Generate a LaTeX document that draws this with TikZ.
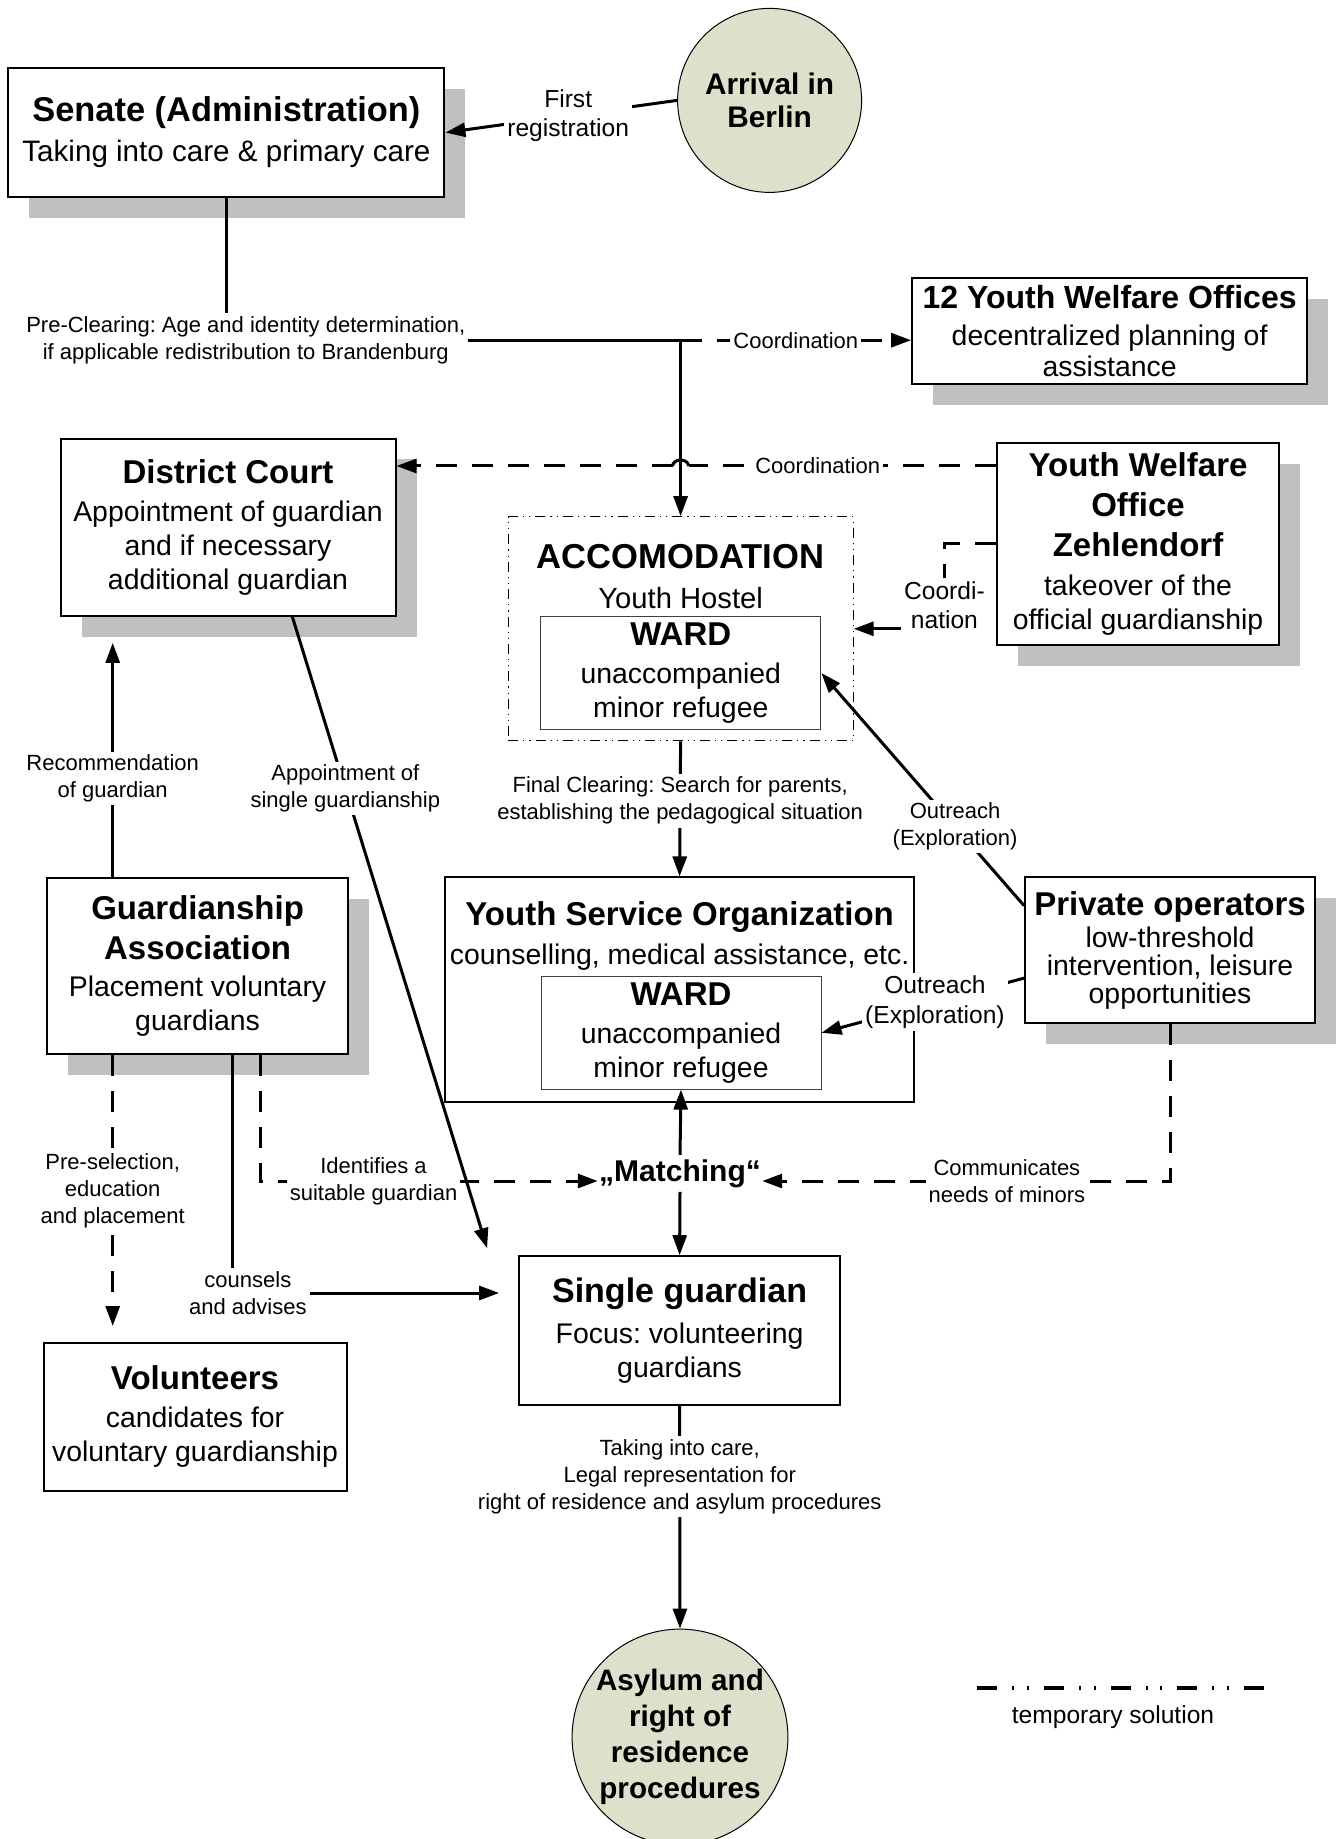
\documentclass[tikz,border=0pt]{standalone}
\usepackage{fontspec}
\setmainfont{Liberation Sans}
\usepackage{xcolor}
\usetikzlibrary{shapes,arrows.meta,shadows,calc}
\definecolor{circlegreen}{RGB}{221,224,203}
\definecolor{shadowgray}{RGB}{192,192,192}
\newcommand{\titlefont}{\fontsize{16.5}{20}\selectfont\bfseries}
\newcommand{\bodyfont}{\fontsize{14.2}{17}\selectfont}
\newcommand{\lblfont}{\fontsize{11}{13.5}\selectfont}
\newcommand{\biglblfont}{\fontsize{12.3}{14.7}\selectfont}
\frenchspacing

\begin{document}
\begin{tikzpicture}[x=1pt, y=-1pt]
    \tikzstyle{box} = [rectangle, draw=black, line width=1pt, fill=white, inner sep=0pt, align=center, font=\bodyfont]
    \tikzstyle{shadowbox} = [box, drop shadow={shadow xshift=10.5pt, shadow yshift=-10.3pt, fill=shadowgray, opacity=1}]
    \tikzstyle{wardbox} = [rectangle, draw=black!75, line width=0.5pt, fill=white, inner sep=0pt, align=center, font=\bodyfont, minimum width=140pt, minimum height=56.3pt]
    \tikzstyle{tempbox} = [rectangle, draw=black, line width=0.6pt, dash pattern=on 5pt off 2.5pt on 0.6pt off 2.5pt on 0.6pt off 2.5pt, inner sep=0pt, minimum width=172.5pt, minimum height=112pt]
    \tikzstyle{bubble} = [circle, draw=black, line width=0.5pt, fill=circlegreen, inner sep=0pt, align=center]
    \tikzstyle{lbl} = [fill=white, inner sep=1.5pt, align=center, font=\lblfont]
    \tikzstyle{biglbl} = [lbl, font=\biglblfont]
    \tikzstyle{plainline} = [line width=1.5pt]
    \tikzstyle{conn} = [plainline, -{Triangle[length=10pt, width=7pt]}]
    \tikzstyle{dashline} = [line width=1.5pt, dash pattern=on 10.5pt off 7.5pt]
    \tikzstyle{dasharrow} = [dashline, -{Triangle[length=10pt, width=7pt]}]
    \tikzstyle{legendline} = [line width=1.75pt, dash pattern=on 10pt off 7.5pt on 1pt off 6.4pt on 1pt off 7.5pt]

    \useasboundingbox (0,0) rectangle (668.5,919.5);

    \node (senate) [shadowbox, minimum width=218pt, minimum height=64.5pt, font=\fontsize{14.8}{17}\selectfont] at (113.2,66.3) {{\fontsize{17.2}{20}\selectfont\bfseries Senate (Administration)}\\[3pt] Taking into care \& primary care};
    \node (arrival) [bubble, minimum size=92pt, font=\fontsize{14.9}{16.7}\selectfont\bfseries] at (384.8,50.2) {Arrival in\\Berlin};
    \node (youth12) [shadowbox, minimum width=197.5pt, minimum height=53pt, font=\fontsize{14.2}{15.3}\selectfont] at (554.8,165.5) {{\fontsize{16}{20}\selectfont\bfseries 12 Youth Welfare Offices}\\[3pt] decentralized planning of\\assistance};
    \node (court) [shadowbox, minimum width=167.5pt, minimum height=88.5pt] at (114,263.7) {{\titlefont District Court}\\[2.4pt] Appointment of guardian\\and if necessary\\additional guardian};
    \node (zehl) [shadowbox, minimum width=141pt, minimum height=101pt] at (569,272) {{\titlefont Youth Welfare}\\[3pt]{\titlefont Office}\\[3pt]{\titlefont Zehlendorf}\\[2.4pt] takeover of the\\official guardianship};

    \node (accom) [tempbox] at (340.3,314.4) {};
    \node (accomtxt) [align=center, inner sep=0pt, font=\fontsize{14.6}{17}\selectfont] at (340.3,288.4) {{\fontsize{17.3}{20}\selectfont\bfseries ACCOMODATION}\\[3pt] Youth Hostel};
    \node (ward1) [wardbox] at (340.4,336.5) {{\titlefont WARD}\\[1.8pt] unaccompanied\\minor refugee};

    \node (yso) [box, minimum width=234.5pt, minimum height=112.2pt] at (339.8,494.8) {};
    \node (ysotxt) [align=center, inner sep=0pt, font=\bodyfont] at (339.8,468) {{\titlefont Youth Service Organization}\\[2.9pt] counselling, medical assistance, etc.};
    \node (ward2) [wardbox] at (340.5,516.4) {{\titlefont WARD}\\[1.8pt] unaccompanied\\minor refugee};

    \node (private) [shadowbox, minimum width=145pt, minimum height=73pt, font=\fontsize{14.2}{14}\selectfont] at (585,475) {{\titlefont Private operators}\\[2pt] low-threshold\\intervention, leisure\\opportunities};
    \node (ga) [shadowbox, minimum width=150.5pt, minimum height=88pt] at (98.8,483) {{\titlefont Guardianship}\\[3.3pt]{\titlefont Association}\\[1.6pt] Placement voluntary\\guardians};
    \node (volunteers) [box, minimum width=151.5pt, minimum height=73.8pt] at (97.5,708.4) {{\titlefont Volunteers}\\[2.1pt] candidates for\\voluntary guardianship};
    \node (single) [box, minimum width=160.5pt, minimum height=74.4pt] at (339.8,665.3) {{\fontsize{17}{20}\selectfont\bfseries Single guardian}\\[3.5pt] Focus: volunteering\\guardians};
    \node (asylum) [bubble, minimum size=106pt, font=\fontsize{14.8}{18}\selectfont\bfseries] at (340,868.5) {Asylum and\\right of\\residence\\procedures};
    \node (matching) [anchor=base, inner xsep=0.5pt, inner ysep=2pt, font=\fontsize{15}{18}\selectfont\bfseries] at (340,590.5) {„Matching“};

    \coordinate (split) at ($(accom.north)+(0,-88)$);
    \coordinate (coordZ) at ($(zehl.north west)+(0,12)$);
    \coordinate (hopR) at ($(coordZ -| accom.north)+(4,0)$);
    \coordinate (hopL) at ($(coordZ -| accom.north)+(-4,0)$);
    \coordinate (po1) at ($(private.north west)!0.2!(private.south west)$);
    \coordinate (po2) at ($(private.north west)!0.69!(private.south west)$);
    \coordinate (gaRec) at ($(ga.north west)+(33.3,0)$);
    \coordinate (courtShadow) at ($(gaRec |- court.south)+(0,13)$);
    \coordinate (gaSel) at ($(ga.south west)+(33.3,0)$);
    \coordinate (volTop) at ($(gaSel |- volunteers.north)+(0,-8)$);
    \coordinate (gaCou) at ($(ga.south west)+(93,0)$);
    \coordinate (singleIn) at ($(single.west)+(-9.5,-18.8)$);
    \coordinate (gaIde) at ($(ga.south west)+(107,0)$);
    \coordinate (courtOut) at ($(court.south)+(32.2,0)$);
    \coordinate (singleCorner) at ($(single.north west)+(-15.5,-3.5)$);

    \draw [conn] (arrival.west) -- node[biglbl, pos=0.47] {First\\registration} (senate.east);
    \draw [conn] (senate.south) |- node[lbl, pos=0.5, xshift=9.7pt] {Pre-Clearing: Age and identity determination,\\if applicable redistribution to Brandenburg} (split) -- (accom.north);
    \draw [dasharrow] (split) -- node[lbl] {Coordination} (split -| youth12.west);

    \draw [dashline] (coordZ) -- node[lbl, pos=0.58] {Coordination} (hopR);
    \draw [plainline] (hopR) arc[start angle=0, end angle=180, x radius=4pt, y radius=3pt];
    \draw [dasharrow] (hopL) -- (hopL -| court.east);

    \node (coordi) [biglbl] at (472.2,302.5) {Coordi-\\nation};
    \draw [dashline] (zehl.west) -| (coordi.north);
    \draw [conn] (coordi.west |- accom.east) -- (accom.east);

    \draw [conn] (po1) -- node[lbl, pos=0.34] {Outreach\\(Exploration)} (ward1.east);
    \draw [conn] (po2) -- node[biglbl, pos=0.44] {Outreach\\(Exploration)} (ward2.east);
    \draw [conn] (accom.south) -- node[lbl, pos=0.44] {Final Clearing: Search for parents,\\establishing the pedagogical situation} (yso.north);

    \draw [conn] (gaRec) -- node[lbl, pos=0.42] {Recommendation\\of guardian} (courtShadow);
    \draw [dasharrow] (gaSel) -- node[lbl] {Pre-selection,\\education\\and placement} (volTop);
    \draw [conn] (gaCou) |- node[lbl, pos=0.5, xshift=7.9pt] {counsels\\and advises} (singleIn);
    \draw [dasharrow] (gaIde) |- node[lbl, pos=0.668] {Identifies a\\suitable guardian} (matching.base west);
    \draw [dasharrow] (private.south) |- node[lbl, pos=0.7] {Communicates\\needs of minors} (matching.base east);
    \draw [conn] (matching.north) -- (ward2.south);
    \draw [conn] (matching.south) -- (single.north);
    \draw [conn] (single.south) -- node[lbl, pos=0.317] {Taking into care,\\Legal representation for\\right of residence and asylum procedures} (asylum.north);
    \draw [conn] (courtOut) -- node[lbl, pos=0.272] {Appointment of\\single guardianship} (singleCorner);

    \coordinate (legA) at (488.5,844);
    \coordinate (legB) at (632,844);
    \draw [legendline] (legA) -- (legB);
    \node (legtxt) [font=\biglblfont] at (556.5,858.5) {temporary solution};
\end{tikzpicture}
\end{document}
